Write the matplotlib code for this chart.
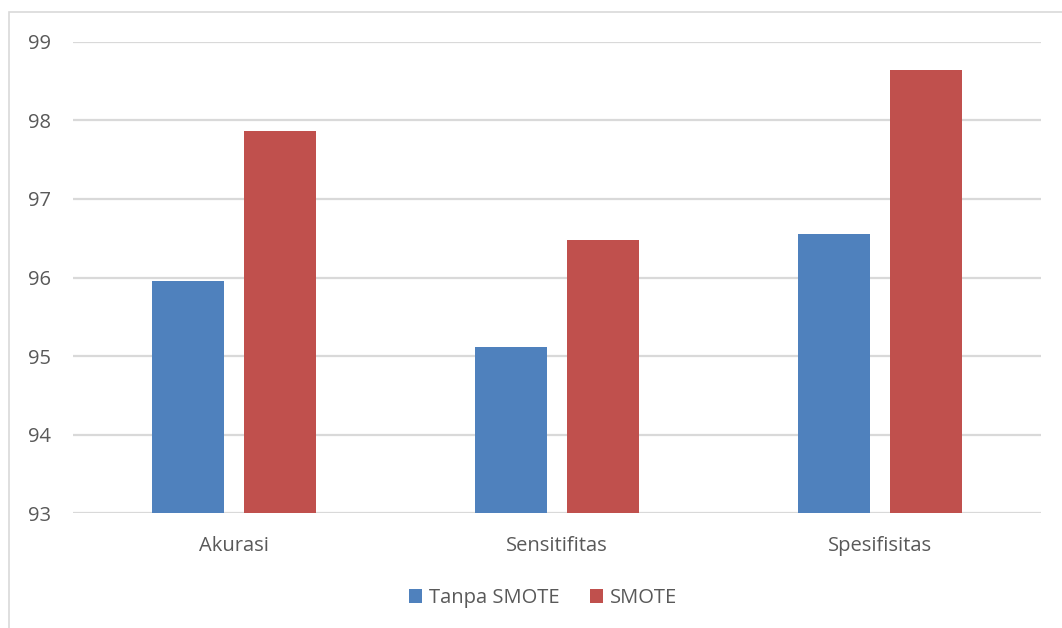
import matplotlib
matplotlib.use("Agg")
import matplotlib.pyplot as plt
from matplotlib.patches import Rectangle
import numpy as np

categories = ["Akurasi", "Sensitifitas", "Spesifisitas"]
tanpa_smote = [95.96, 95.12, 96.55]
smote = [97.86, 96.48, 98.64]
series_names = ["Tanpa SMOTE", "SMOTE"]
y_ticks = [93, 94, 95, 96, 97, 98, 99]

BLUE = "#4F81BD"
RED = "#C0504D"
GRID = "#D9D9D9"
TEXT = "#595959"

plt.rcParams["font.family"] = ["Open Sans", "DejaVu Sans"]

W, H = 1062, 628
fig = plt.figure(figsize=(W / 100, H / 100), dpi=100)

# outer chart frame
fig.patches.append(Rectangle((9 / W, -0.1), 1.2, 1 - 12 / H + 0.1,
                             transform=fig.transFigure, fill=False,
                             edgecolor=GRID, linewidth=1.2))

left, right = 73 / W, 1041 / W
bottom, top = 1 - 513.3 / H, 1 - 41.7 / H
ax = fig.add_axes([left, bottom, right - left, top - bottom])

x = np.arange(len(categories))
width = 0.223
offset = 0.1425
ax.bar(x - offset, np.array(tanpa_smote) - 93, width, bottom=93,
       color=BLUE, zorder=3, label=series_names[0])
ax.bar(x + offset, np.array(smote) - 93, width, bottom=93,
       color=RED, zorder=3, label=series_names[1])

ax.set_xlim(-0.5, 2.5)
ax.set_ylim(93, 99)
ax.set_yticks(y_ticks)
ax.set_xticks(x)
ax.set_xticklabels(categories)
ax.yaxis.grid(True, color=GRID, linewidth=1.6, zorder=0)
ax.set_axisbelow(True)
for s in ax.spines.values():
    s.set_visible(False)
ax.tick_params(axis="both", length=0, colors=TEXT, labelsize=14.5)
ax.tick_params(axis="y", pad=16)
ax.tick_params(axis="x", pad=16.5)

leg = fig.legend(loc="center", bbox_to_anchor=(543 / W, 1 - 598 / H),
                 ncol=2, frameon=False, fontsize=14.5, handlelength=0.65,
                 handleheight=0.65, handletextpad=0.35, columnspacing=1.5)
for t in leg.get_texts():
    t.set_color(TEXT)

fig.savefig("out.png", dpi=100)
